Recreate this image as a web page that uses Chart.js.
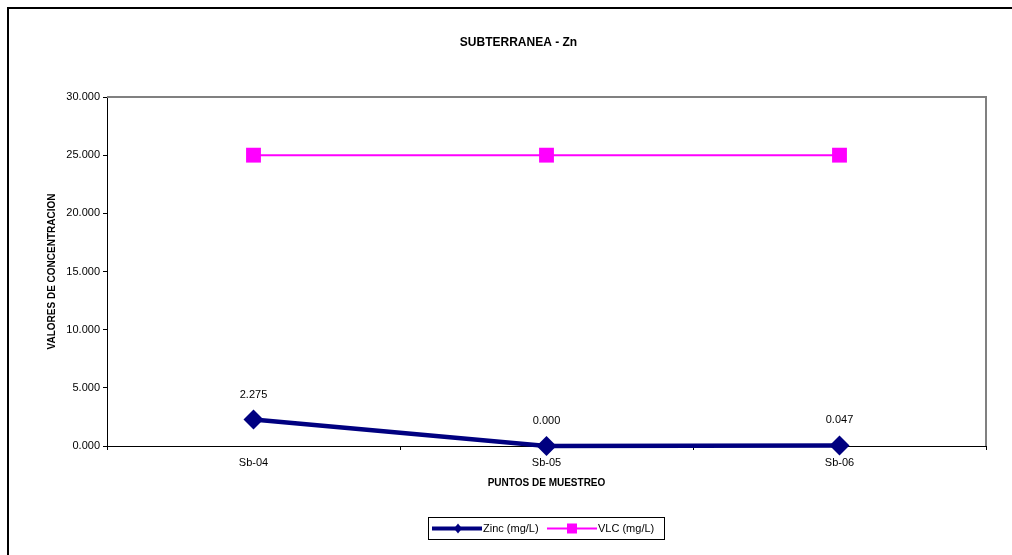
<!DOCTYPE html>
<html>
<head>
<meta charset="utf-8">
<script src="https://cdn.jsdelivr.net/npm/chart.js@4.4.1/dist/chart.umd.min.js"></script>
<style>
html,body{margin:0;padding:0;background:#fff;}
canvas{display:block;}
</style>
</head>
<body>
<canvas id="c" width="1012" height="555"></canvas>
<script>
const categories = ["Sb-04", "Sb-05", "Sb-06"];
const zincValues = [2.275, 0.000, 0.047];
const vlcValues = [25, 25, 25];
const yTicks = [0, 5, 10, 15, 20, 25, 30];
const titleText = "SUBTERRANEA - Zn";
const xTitle = "PUNTOS DE MUESTREO";
const yTitle = "VALORES DE CONCENTRACION";
const seriesNames = ["Zinc (mg/L)", "VLC (mg/L)"];

const FONT = "'Liberation Sans', Arial, sans-serif";

const decor = {
  id: 'decor',
  afterDraw(chart) {
    const ctx = chart.ctx;
    const a = chart.chartArea;
    ctx.save();
    // outer border
    ctx.strokeStyle = '#000';
    ctx.lineWidth = 2;
    ctx.strokeRect(8, 8, 1200, 1200);
    // title
    ctx.fillStyle = '#000';
    ctx.textAlign = 'center';
    ctx.textBaseline = 'middle';
    ctx.font = "bold 12px " + FONT;
    ctx.fillText(titleText, (a.left + a.right) / 2 - 28, 43);
    // axis titles
    ctx.font = "bold 10px " + FONT;
    ctx.fillText(xTitle, (a.left + a.right) / 2, 483);
    ctx.save();
    ctx.translate(52, (a.top + a.bottom) / 2);
    ctx.rotate(-Math.PI / 2);
    ctx.fillText(yTitle, 0, 0);
    ctx.restore();
    // data labels for zinc
    ctx.font = "11px " + FONT;
    const meta = chart.getDatasetMeta(0);
    meta.data.forEach((pt, i) => {
      ctx.fillText(zincValues[i].toFixed(3), pt.x, pt.y - 25);
    });
    // legend
    const lx = 428, ly = 517, lw = 236, lh = 22;
    ctx.strokeStyle = '#000';
    ctx.lineWidth = 1;
    ctx.strokeRect(lx + 0.5, ly + 0.5, lw, lh);
    const cy = ly + lh / 2 + 0.5;
    ctx.strokeStyle = '#000080';
    ctx.lineWidth = 4;
    ctx.beginPath(); ctx.moveTo(432, cy); ctx.lineTo(482, cy); ctx.stroke();
    ctx.fillStyle = '#000080';
    ctx.beginPath();
    ctx.moveTo(458, cy - 5); ctx.lineTo(462, cy); ctx.lineTo(458, cy + 5); ctx.lineTo(454, cy);
    ctx.closePath(); ctx.fill();
    ctx.strokeStyle = '#FF00FF';
    ctx.lineWidth = 2;
    ctx.beginPath(); ctx.moveTo(547, cy); ctx.lineTo(597, cy); ctx.stroke();
    ctx.fillStyle = '#FF00FF';
    ctx.fillRect(567, cy - 5, 10, 10);
    ctx.fillStyle = '#000';
    ctx.textAlign = 'left';
    ctx.font = "11px " + FONT;
    ctx.fillText(seriesNames[0], 483, cy);
    ctx.fillText(seriesNames[1], 598, cy);
    ctx.restore();
  },
  beforeDatasetsDraw(chart) {
    const ctx = chart.ctx;
    const a = chart.chartArea;
    ctx.save();
    ctx.strokeStyle = '#808080';
    ctx.lineWidth = 2;
    ctx.beginPath();
    ctx.moveTo(a.left, a.top);
    ctx.lineTo(a.right, a.top);
    ctx.lineTo(a.right, a.bottom);
    ctx.stroke();
    ctx.restore();
  }
};

new Chart(document.getElementById('c'), {
  type: 'line',
  data: {
    labels: categories,
    datasets: [
      {
        label: seriesNames[0],
        data: zincValues,
        borderColor: '#000080',
        backgroundColor: '#000080',
        borderWidth: 4.5,
        pointStyle: 'rectRot',
        pointRadius: 10,
        pointHoverRadius: 10,
        pointBorderWidth: 0,
        tension: 0,
        clip: false,
        order: 0
      },
      {
        label: seriesNames[1],
        data: vlcValues,
        borderColor: '#FF00FF',
        backgroundColor: '#FF00FF',
        borderWidth: 2,
        pointStyle: 'rect',
        pointRadius: 10.5,
        pointHoverRadius: 10.5,
        pointBorderWidth: 0,
        tension: 0,
        clip: false,
        order: 1
      }
    ]
  },
  options: {
    responsive: false,
    animation: false,
    events: [],
    layout: { padding: { left: 0, right: 26, top: 97, bottom: 0 } },
    plugins: { legend: { display: false }, title: { display: false }, tooltip: { enabled: false } },
    scales: {
      x: {
        type: 'category',
        offset: true,
        grid: { offset: true, drawOnChartArea: false, drawTicks: true, tickLength: 4, color: '#000' },
        border: { color: '#000', width: 1 },
        ticks: { color: '#000', font: { family: FONT, size: 11 }, padding: 6, maxRotation: 0 },
        afterFit(s) { s.height = 109; }
      },
      y: {
        min: 0,
        max: 30,
        afterBuildTicks(s) { s.ticks = yTicks.map(v => ({ value: v })); },
        grid: { drawOnChartArea: false, drawTicks: true, tickLength: 4, color: '#000' },
        border: { color: '#000', width: 1 },
        ticks: { color: '#000', font: { family: FONT, size: 11 }, padding: 3, callback: v => Number(v).toFixed(3) },
        afterFit(s) { s.width = 107; }
      }
    }
  },
  plugins: [decor]
});
</script>
</body>
</html>
